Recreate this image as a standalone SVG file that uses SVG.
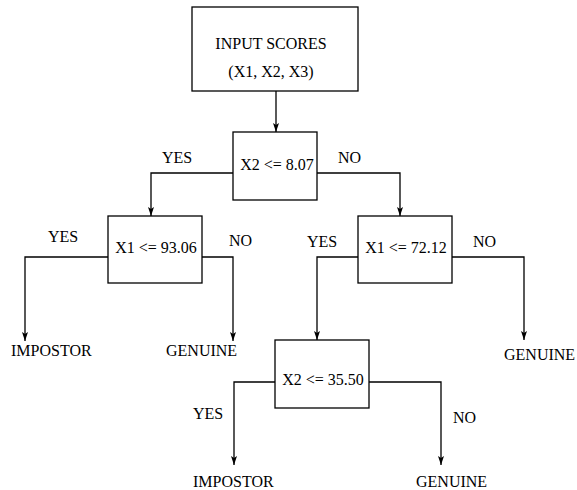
<svg xmlns="http://www.w3.org/2000/svg" width="577" height="490" viewBox="0 0 577 490">
<style>
.box{fill:#fff;stroke:#000;stroke-width:1.3}
.c{fill:none;stroke:#000;stroke-width:1.3}
text{font-family:"Liberation Serif","Times New Roman",serif;font-size:16px;fill:#000}
.m{text-anchor:middle}
</style>
<defs>
<marker id="ah" markerWidth="10" markerHeight="8" refX="9" refY="4" orient="auto" markerUnits="userSpaceOnUse">
<path d="M0,1 L9,4 L0,7 L2,4 Z" fill="#000"/>
</marker>
</defs>
<rect width="577" height="490" fill="#fff"/>
<g id="connectors">
<path class="c" d="M276,91 V132" marker-end="url(#ah)"/>
<path class="c" d="M233,173 H151 V216" marker-end="url(#ah)"/>
<path class="c" d="M317,173 H400 V216" marker-end="url(#ah)"/>
<path class="c" d="M108,257 H25 V341" marker-end="url(#ah)"/>
<path class="c" d="M202,257 H233 V341" marker-end="url(#ah)"/>
<path class="c" d="M358,257 H317 V340" marker-end="url(#ah)"/>
<path class="c" d="M452,257 H524 V340" marker-end="url(#ah)"/>
<path class="c" d="M275,382 H234 V465" marker-end="url(#ah)"/>
<path class="c" d="M369,382 H441 V465" marker-end="url(#ah)"/>
<text x="162" y="163">YES</text>
<text x="338" y="163">NO</text>
<text x="48" y="242">YES</text>
<text x="229" y="246">NO</text>
<text x="307" y="247">YES</text>
<text x="473" y="247">NO</text>
<text x="193" y="419">YES</text>
<text x="453" y="423">NO</text>
</g>
<g id="input">
<rect class="box" x="192" y="7" width="166" height="84"/>
<text class="m" x="271" y="49">INPUT SCORES</text>
<text class="m" x="271" y="77">(X1, X2, X3)</text>
</g>
<g id="n1">
<rect class="box" x="233" y="132" width="84" height="68"/>
<text class="m" x="277" y="170">X2 &lt;= 8.07</text>
</g>
<g id="n2">
<rect class="box" x="108" y="216" width="94" height="67"/>
<text class="m" x="156" y="253">X1 &lt;= 93.06</text>
</g>
<g id="n3">
<rect class="box" x="358" y="216" width="94" height="67"/>
<text class="m" x="406" y="253">X1 &lt;= 72.12</text>
</g>
<g id="n4">
<rect class="box" x="275" y="340" width="94" height="68"/>
<text class="m" x="323" y="385">X2 &lt;= 35.50</text>
</g>
<g id="leaf1"><text x="11" y="356">IMPOSTOR</text></g>
<g id="leaf2"><text x="166" y="356">GENUINE</text></g>
<g id="leaf3"><text x="504" y="360">GENUINE</text></g>
<g id="leaf4"><text x="193" y="487">IMPOSTOR</text></g>
<g id="leaf5"><text x="416" y="487">GENUINE</text></g>
</svg>
